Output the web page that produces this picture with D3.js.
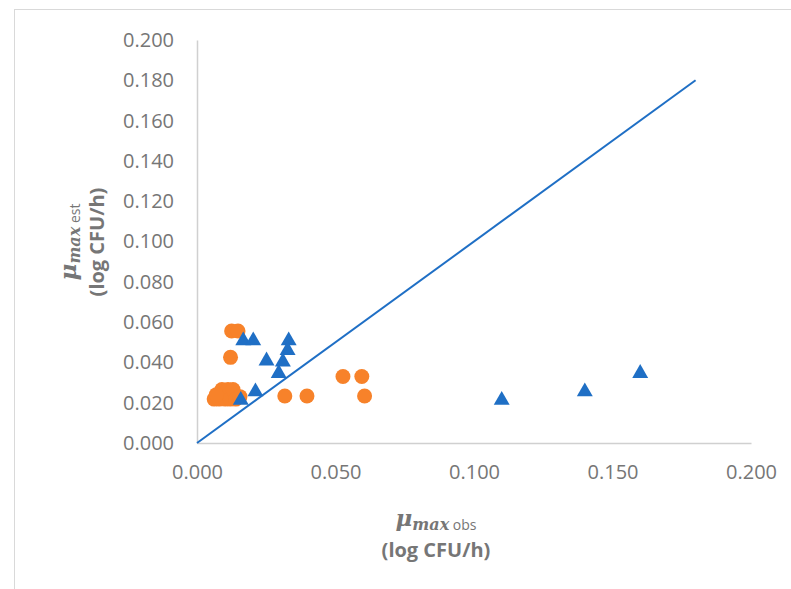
<!DOCTYPE html>
<html>
<head>
<meta charset="utf-8">
<script src="https://cdn.jsdelivr.net/npm/d3@7"></script>
<style>
  body { margin: 0; background: #fff; }
  svg text { fill: #767676; }
</style>
</head>
<body>
<div id="container"></div>
<script>
// observed vs estimated, two series plus the 1:1-ish reference line
const orangeX = [0.0125, 0.0148, 0.0121, 0.0062, 0.0080, 0.0090, 0.0102, 0.0112, 0.0120, 0.0130, 0.0140, 0.0155, 0.0070, 0.0317, 0.0397, 0.0527, 0.0595, 0.0605];
const orangeY = [0.0556, 0.0556, 0.0425, 0.0218, 0.0218, 0.0265, 0.0218, 0.0265, 0.0218, 0.0265, 0.0218, 0.0230, 0.0240, 0.0233, 0.0233, 0.0330, 0.0330, 0.0233];
const blueX = [0.0167, 0.0203, 0.0251, 0.0331, 0.0327, 0.0310, 0.0295, 0.0211, 0.0158, 0.110, 0.140, 0.160];
const blueY = [0.0508, 0.0508, 0.0408, 0.0508, 0.0460, 0.0403, 0.0346, 0.0255, 0.0213, 0.0213, 0.0255, 0.0346];
const lineX = [0, 0.18];
const lineY = [0, 0.18];
const tickValues = [0, 0.02, 0.04, 0.06, 0.08, 0.1, 0.12, 0.14, 0.16, 0.18, 0.2];
const xTickValues = [0, 0.05, 0.1, 0.15, 0.2];

const width = 791;
const height = 589;
const font = '"Open Sans", sans-serif';
const orange = '#f7822a';
const blue = '#1f6fc5';

const svg = d3.select('#container').append('svg')
    .attr('width', width)
    .attr('height', height);

// chart frame
svg.append('rect')
    .attr('x', 14.5).attr('y', 9.5)
    .attr('width', 820).attr('height', 620)
    .attr('fill', '#fff')
    .attr('stroke', '#d9d9d9');

const x = d3.scaleLinear().domain([0, 0.2]).range([197, 751]);
const y = d3.scaleLinear().domain([0, 0.2]).range([443, 40]);

const yAxis = svg.append('g')
    .attr('transform', `translate(${x(0)},0)`)
    .call(d3.axisLeft(y).tickValues(tickValues).tickSize(0).tickPadding(23).tickFormat(d3.format('.3f')));
const xAxis = svg.append('g')
    .attr('transform', `translate(0,${y(0)})`)
    .call(d3.axisBottom(x).tickValues(xTickValues).tickSize(0).tickPadding(22).tickFormat(d3.format('.3f')));

[xAxis, yAxis].forEach(a => {
    a.select('.domain').attr('stroke', '#d0d0d0').attr('stroke-width', 1.5);
    a.selectAll('text').attr('font-family', font).attr('font-size', 20).style('fill', '#767676');
});

// reference line
svg.append('path')
    .datum(d3.zip(lineX, lineY))
    .attr('fill', 'none')
    .attr('stroke', blue)
    .attr('stroke-width', 2)
    .attr('d', d3.line().x(d => x(d[0])).y(d => y(d[1])));

svg.append('g')
    .selectAll('circle')
    .data(d3.zip(orangeX, orangeY))
    .enter()
    .append('circle')
    .attr('cx', d => x(d[0]))
    .attr('cy', d => y(d[1]))
    .attr('r', 7.5)
    .attr('fill', orange);

const tri = d3.symbol().type(d3.symbolTriangle).size(110);
svg.append('g')
    .selectAll('path')
    .data(d3.zip(blueX, blueY))
    .enter()
    .append('path')
    .attr('transform', d => `translate(${x(d[0])},${y(d[1])})`)
    .attr('d', tri)
    .attr('fill', blue);

// axis titles
function muTitle(g, label) {
    const t = g.append('text').attr('text-anchor', 'middle');
    t.append('tspan')
        .attr('font-family', '"DejaVu Serif", serif')
        .attr('font-style', 'italic').attr('font-weight', 'bold')
        .attr('font-size', 23)
        .text('μ');
    t.append('tspan')
        .attr('font-family', '"DejaVu Serif", serif')
        .attr('font-style', 'italic').attr('font-weight', 'bold')
        .attr('font-size', 16).attr('dy', 4)
        .text('max');
    t.append('tspan')
        .attr('font-family', font)
        .attr('font-size', 14)
        .text(' ' + label);
    return t;
}

const xt = svg.append('g').attr('transform', 'translate(436,526)');
muTitle(xt, 'obs');
xt.append('text')
    .attr('text-anchor', 'middle')
    .attr('y', 31)
    .attr('font-family', font)
    .attr('font-weight', 'bold')
    .attr('font-size', 20)
    .text('(log CFU/h)');

const yt = svg.append('g').attr('transform', 'translate(76,242) rotate(-90)');
muTitle(yt, 'est');
yt.append('text')
    .attr('text-anchor', 'middle')
    .attr('y', 28)
    .attr('font-family', font)
    .attr('font-weight', 'bold')
    .attr('font-size', 20)
    .text('(log CFU/h)');
</script>
</body>
</html>
